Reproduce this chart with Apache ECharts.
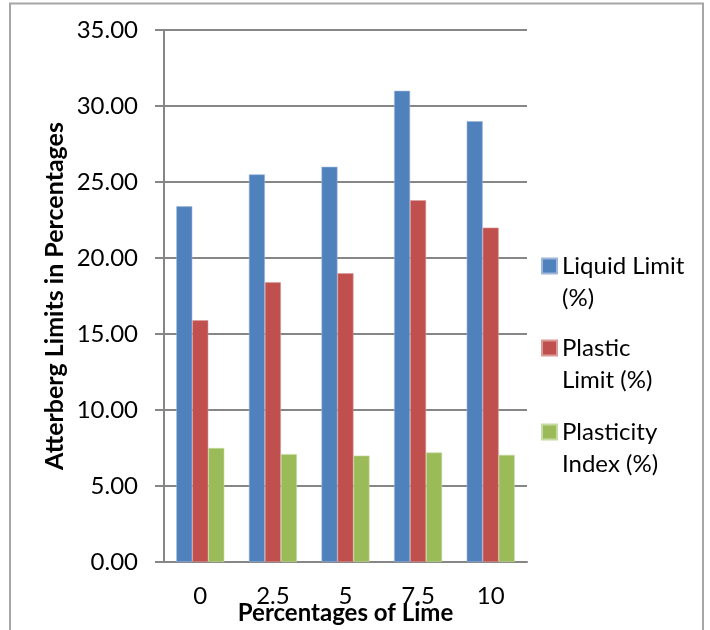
<!DOCTYPE html>
<html>
<head>
<meta charset="utf-8">
<script src="https://cdn.jsdelivr.net/npm/echarts@6/dist/echarts.min.js"></script>
<style>
html,body{margin:0;padding:0;background:#fff;}
#chart{width:710px;height:630px;}
</style>
</head>
<body>
<div id="chart"></div>
<script>
const categories = ['0', '2.5', '5', '7.5', '10'];
const liquidLimit = [23.4, 25.5, 26.0, 31.0, 29.0];
const plasticLimit = [15.9, 18.4, 19.0, 23.8, 22.0];
const plasticityIndex = [7.5, 7.1, 7.0, 7.2, 7.05];
const seriesNames = ['Liquid Limit (%)', 'Plastic Limit (%)', 'Plasticity Index (%)'];
const legendLabels = ['Liquid Limit\n(%)', 'Plastic\nLimit (%)', 'Plasticity\nIndex (%)'];
const yTicks = { min: 0, max: 35, interval: 5 };

const colors = ['#4F81BD', '#C0504D', '#9BBB59'];
const borders = ['#9DB6D9', '#DA9A98', '#C6DAA3'];
const FONT = 'Lato';
const LH = 32;

const chart = echarts.init(document.getElementById('chart'), null, { renderer: 'canvas' });

const iconCenters = [266, 348, 432];
const legends = seriesNames.map((n, i) => ({
  data: [n],
  orient: 'vertical',
  left: 541,
  top: iconCenters[i] - 1.5 * LH,
  padding: 0,
  itemWidth: 15,
  itemHeight: 15,
  itemGap: 0,
  icon: 'rect',
  selectedMode: false,
  formatter: () => ' \n' + legendLabels[i],
  textStyle: {
    fontFamily: FONT,
    fontSize: 24,
    color: '#000',
    lineHeight: LH
  }
}));

const vals = [liquidLimit, plasticLimit, plasticityIndex];

chart.setOption({
  animation: false,
  backgroundColor: '#fff',
  textStyle: { fontFamily: FONT },
  graphic: [{
    type: 'polyline',
    shape: { points: [[10, 640], [10, 3.5], [703, 3.5], [703, 640]] },
    style: { stroke: '#a6a6a6', lineWidth: 2, fill: null },
    silent: true
  }],
  legend: legends,
  grid: { left: 164, right: 710 - 527, top: 30, bottom: 630 - 562, containLabel: false, outerBoundsMode: 'none' },
  xAxis: {
    type: 'category',
    data: categories,
    name: 'Percentages of Lime',
    nameLocation: 'middle',
    nameGap: 39,
    nameMoveOverlap: false,
    nameTextStyle: { fontFamily: FONT, fontSize: 24, fontWeight: 'bold', color: '#000' },
    axisLine: { show: true, lineStyle: { color: '#868686', width: 2 } },
    axisTick: { show: false },
    axisLabel: { fontFamily: FONT, fontSize: 24, color: '#000', margin: 22 },
    splitLine: { show: false }
  },
  yAxis: {
    type: 'value',
    min: yTicks.min,
    max: yTicks.max,
    interval: yTicks.interval,
    name: 'Atterberg Limits in Percentages',
    nameLocation: 'middle',
    nameGap: 97,
    nameMoveOverlap: false,
    nameTextStyle: { fontFamily: FONT, fontSize: 25, fontWeight: 'bold', color: '#000' },
    axisLine: { show: true, lineStyle: { color: '#868686', width: 2 } },
    axisTick: { show: true, length: 9, lineStyle: { color: '#868686', width: 2 } },
    axisLabel: { fontFamily: FONT, fontSize: 24, color: '#000', margin: 26, formatter: v => v.toFixed(2) },
    splitLine: { show: true, lineStyle: { color: '#868686', width: 2 } }
  },
  series: seriesNames.map((n, i) => ({
    name: n,
    type: 'bar',
    data: vals[i],
    barWidth: 16,
    barGap: '0%',
    itemStyle: { color: colors[i], borderColor: borders[i], borderWidth: 0.6 }
  }))
});
</script>
</body>
</html>
